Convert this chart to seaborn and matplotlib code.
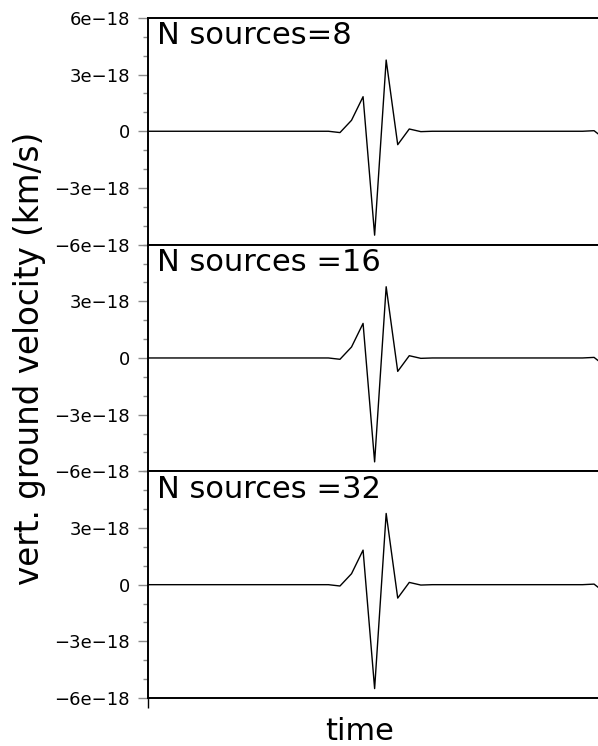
import numpy as np
import pandas as pd
import matplotlib
matplotlib.use("Agg")
import matplotlib.pyplot as plt
import seaborn as sns
from matplotlib.ticker import MultipleLocator, FixedLocator, FuncFormatter

# waveform samples (units of 1e-18 km/s), one per panel
n_sources = [8, 16, 32]
panel_titles = ["N sources=8", "N sources =16", "N sources =32"]
trace_8 = [0, 0, 0, 0, 0, 0, 0, 0, 0, 0, 0, 0, 0, 0, 0, 0, 0,
           -0.07, 0.58, 1.83, -5.50, 3.77, -0.71, 0.12, -0.02,
           0, 0, 0, 0, 0, 0, 0, 0, 0, 0, 0, 0, 0, 0.0, 0.03, -0.45]
trace_16 = [0, 0, 0, 0, 0, 0, 0, 0, 0, 0, 0, 0, 0, 0, 0, 0, 0,
            -0.07, 0.58, 1.83, -5.50, 3.77, -0.71, 0.12, -0.02,
            0, 0, 0, 0, 0, 0, 0, 0, 0, 0, 0, 0, 0, 0.0, 0.03, -0.45]
trace_32 = [0, 0, 0, 0, 0, 0, 0, 0, 0, 0, 0, 0, 0, 0, 0, 0, 0,
            -0.07, 0.58, 1.83, -5.50, 3.77, -0.71, 0.12, -0.02,
            0, 0, 0, 0, 0, 0, 0, 0, 0, 0, 0, 0, 0, 0.0, 0.03, -0.45]
traces = [trace_8, trace_16, trace_32]

sns.set_style("white")
plt.rcParams['font.family'] = ['DejaVu Sans']
plt.rcParams['text.color'] = 'black'
plt.rcParams['axes.labelcolor'] = 'black'
plt.rcParams['ytick.labelcolor'] = 'black'

fig, axes = plt.subplots(3, 1, figsize=(5.98, 7.46), dpi=100, sharex=True)
fig.subplots_adjust(left=0.2475, right=1.0, top=0.976, bottom=0.0643, hspace=0)


def sci(v, pos):
    if abs(v) < 1e-30:
        return "0"
    m = v / 1e-18
    s = "%de\u221218" % abs(round(m))
    return ("\u2212" + s) if m < 0 else s


for i, (ax, tr, title) in enumerate(zip(axes, traces, panel_titles)):
    df = pd.DataFrame({"t": np.arange(len(tr)), "v": np.array(tr) * 1e-18})
    sns.lineplot(data=df, x="t", y="v", ax=ax, color="black", linewidth=1.0)
    ax.set_xlim(0.38, 39.34)
    ax.set_ylim(-6e-18, 6e-18)
    majors = [-6e-18, -3e-18, 0, 3e-18, 6e-18] if i == 0 else [-6e-18, -3e-18, 0, 3e-18]
    ax.yaxis.set_major_locator(FixedLocator(majors))
    ax.yaxis.set_minor_locator(MultipleLocator(1e-18))
    ax.yaxis.set_major_formatter(FuncFormatter(sci))
    ax.tick_params(axis="y", which="major", length=7, width=1, color="0.55",
                   labelsize=13, labelcolor="black", left=True, pad=6)
    ax.tick_params(axis="y", which="minor", length=3.5, width=1, color="0.55", left=True)
    ax.set_xticks([])
    ax.set_xlabel("")
    ax.set_ylabel("")
    ax.yaxis.get_offset_text().set_visible(False)
    for side in ["left", "top", "bottom"]:
        ax.spines[side].set_color("black")
        ax.spines[side].set_linewidth(1.4)
    ax.spines["right"].set_visible(False)
    ax.text(0.02, 0.985, title, transform=ax.transAxes, ha="left", va="top",
            fontsize=22, color="black")

axes[-1].set_xticks([0.38])
axes[-1].tick_params(axis="x", length=7, width=1, color="black", bottom=True,
                     labelbottom=False)
axes[1].set_ylabel("vert. ground velocity (km/s)", fontsize=23.5, labelpad=6, color="black")
fig.text(0.602, 0.008, "time", ha="center", va="baseline", fontsize=22, color="black")

fig.savefig("out.png", dpi=100)
